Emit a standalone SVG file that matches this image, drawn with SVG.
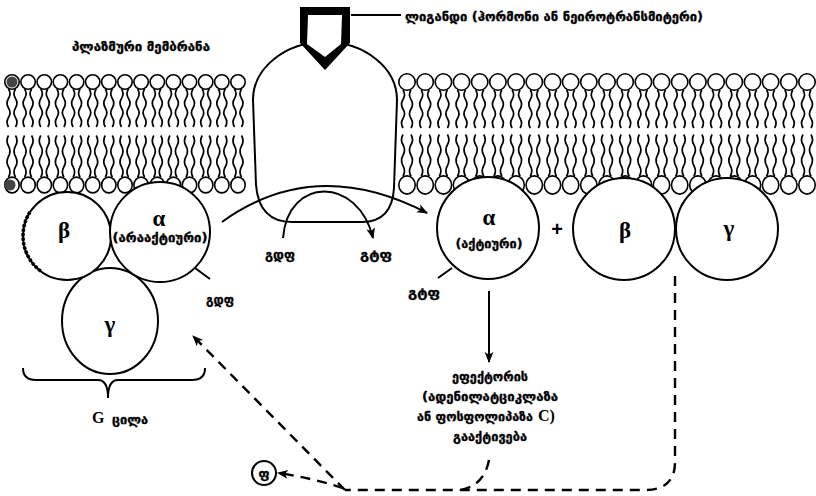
<svg xmlns="http://www.w3.org/2000/svg" xmlns:xlink="http://www.w3.org/1999/xlink" width="816" height="496" viewBox="0 0 816 496">
  <style>
    .ln { fill: none; stroke: #000; stroke-width: 2; }
    .shape { fill: #fff; stroke: #000; stroke-width: 2; }
    .head { fill: #fff; stroke: #000; stroke-width: 1.6; }
    .tail { fill: none; stroke: #000; stroke-width: 1.7; }
    .dash { fill: none; stroke: #000; stroke-width: 2.4; stroke-dasharray: 10 7; }
    .ka { font-family: "DejaVu Sans", sans-serif; font-weight: bold; font-size: 13px; fill: #000; stroke: #000; stroke-width: 0.35; }
    .gr { font-family: "Liberation Serif", "DejaVu Serif", serif; font-weight: bold; font-size: 23px; fill: #000; text-anchor: middle; }
    .lat { font-family: "Liberation Serif", serif; font-weight: bold; font-size: 16px; fill: #000; }
    .mid { text-anchor: middle; }
  </style>
  <defs>
    <!-- phospholipid: head with two fatty-acid tails hanging down -->
    <g id="lipR">
      <path class="tail" d="M-4 8 q3 4.75 0 9.5 t0 9.5 t0 9.5 t0 9.5"/>
      <path class="tail" d="M4 8 q-3 4.75 0 9.5 t0 9.5 t0 9.5 t0 9.5"/>
      <circle class="head" r="8.2"/>
    </g>
    <g id="lipL">
      <path class="tail" d="M-3.5 7 q3 4.75 0 9.5 t0 9.5 t0 9.5 t0 9.5"/>
      <path class="tail" d="M3.5 7 q-3 4.75 0 9.5 t0 9.5 t0 9.5 t0 9.5"/>
      <circle class="head" r="7.2"/>
    </g>
    <marker id="ah" viewBox="0 0 10 10" refX="9" refY="5" markerWidth="11" markerHeight="11" markerUnits="userSpaceOnUse" orient="auto">
      <path d="M0,1 L10,5 L0,9 L2.5,5 z" fill="#000" stroke="none"/>
    </marker>
  </defs>

  <rect width="816" height="496" fill="#fff"/>

  <!-- lipid bilayer, left of the receptor -->
  <g id="membrane-left">
    <use xlink:href="#lipL" transform="translate(12,82)"/>
    <use xlink:href="#lipL" transform="translate(28.1,82)"/>
    <use xlink:href="#lipL" transform="translate(44.3,82)"/>
    <use xlink:href="#lipL" transform="translate(60.4,82)"/>
    <use xlink:href="#lipL" transform="translate(76.6,82)"/>
    <use xlink:href="#lipL" transform="translate(92.7,82)"/>
    <use xlink:href="#lipL" transform="translate(108.8,82)"/>
    <use xlink:href="#lipL" transform="translate(125,82)"/>
    <use xlink:href="#lipL" transform="translate(141.1,82)"/>
    <use xlink:href="#lipL" transform="translate(157.3,82)"/>
    <use xlink:href="#lipL" transform="translate(173.4,82)"/>
    <use xlink:href="#lipL" transform="translate(189.5,82)"/>
    <use xlink:href="#lipL" transform="translate(205.7,82)"/>
    <use xlink:href="#lipL" transform="translate(221.8,82)"/>
    <use xlink:href="#lipL" transform="translate(238,82)"/>
    <use xlink:href="#lipL" transform="translate(12,185) scale(1,-1.1)"/>
    <use xlink:href="#lipL" transform="translate(28.1,185) scale(1,-1.1)"/>
    <use xlink:href="#lipL" transform="translate(44.3,185) scale(1,-1.1)"/>
    <use xlink:href="#lipL" transform="translate(60.4,185) scale(1,-1.1)"/>
    <use xlink:href="#lipL" transform="translate(76.6,185) scale(1,-1.1)"/>
    <use xlink:href="#lipL" transform="translate(92.7,185) scale(1,-1.1)"/>
    <use xlink:href="#lipL" transform="translate(108.8,185) scale(1,-1.1)"/>
    <use xlink:href="#lipL" transform="translate(125,185) scale(1,-1.1)"/>
    <use xlink:href="#lipL" transform="translate(141.1,185) scale(1,-1.1)"/>
    <use xlink:href="#lipL" transform="translate(157.3,185) scale(1,-1.1)"/>
    <use xlink:href="#lipL" transform="translate(173.4,185) scale(1,-1.1)"/>
    <use xlink:href="#lipL" transform="translate(189.5,185) scale(1,-1.1)"/>
    <use xlink:href="#lipL" transform="translate(205.7,185) scale(1,-1.1)"/>
    <use xlink:href="#lipL" transform="translate(221.8,185) scale(1,-1.1)"/>
    <use xlink:href="#lipL" transform="translate(238,185) scale(1,-1.1)"/>
    <!-- darker edge heads at the cut -->
    <circle cx="12" cy="82" r="5.5" fill="#444"/>
    <circle cx="10" cy="185" r="5.5" fill="#444"/>
  </g>

  <!-- lipid bilayer, right of the receptor -->
  <g id="membrane-right">
    <use xlink:href="#lipR" transform="translate(407,82)"/>
    <use xlink:href="#lipR" transform="translate(425.2,82)"/>
    <use xlink:href="#lipR" transform="translate(443.4,82)"/>
    <use xlink:href="#lipR" transform="translate(461.5,82)"/>
    <use xlink:href="#lipR" transform="translate(479.7,82)"/>
    <use xlink:href="#lipR" transform="translate(497.9,82)"/>
    <use xlink:href="#lipR" transform="translate(516.1,82)"/>
    <use xlink:href="#lipR" transform="translate(534.3,82)"/>
    <use xlink:href="#lipR" transform="translate(552.5,82)"/>
    <use xlink:href="#lipR" transform="translate(570.6,82)"/>
    <use xlink:href="#lipR" transform="translate(588.8,82)"/>
    <use xlink:href="#lipR" transform="translate(607,82)"/>
    <use xlink:href="#lipR" transform="translate(625.2,82)"/>
    <use xlink:href="#lipR" transform="translate(643.4,82)"/>
    <use xlink:href="#lipR" transform="translate(661.5,82)"/>
    <use xlink:href="#lipR" transform="translate(679.7,82)"/>
    <use xlink:href="#lipR" transform="translate(697.9,82)"/>
    <use xlink:href="#lipR" transform="translate(716.1,82)"/>
    <use xlink:href="#lipR" transform="translate(734.3,82)"/>
    <use xlink:href="#lipR" transform="translate(752.5,82)"/>
    <use xlink:href="#lipR" transform="translate(770.6,82)"/>
    <use xlink:href="#lipR" transform="translate(788.8,82)"/>
    <use xlink:href="#lipR" transform="translate(807,82)"/>
    <use xlink:href="#lipR" transform="translate(407,185) scale(1,-1.1)"/>
    <use xlink:href="#lipR" transform="translate(425.2,185) scale(1,-1.1)"/>
    <use xlink:href="#lipR" transform="translate(443.4,185) scale(1,-1.1)"/>
    <use xlink:href="#lipR" transform="translate(461.5,185) scale(1,-1.1)"/>
    <use xlink:href="#lipR" transform="translate(479.7,185) scale(1,-1.1)"/>
    <use xlink:href="#lipR" transform="translate(497.9,185) scale(1,-1.1)"/>
    <use xlink:href="#lipR" transform="translate(516.1,185) scale(1,-1.1)"/>
    <use xlink:href="#lipR" transform="translate(534.3,185) scale(1,-1.1)"/>
    <use xlink:href="#lipR" transform="translate(552.5,185) scale(1,-1.1)"/>
    <use xlink:href="#lipR" transform="translate(570.6,185) scale(1,-1.1)"/>
    <use xlink:href="#lipR" transform="translate(588.8,185) scale(1,-1.1)"/>
    <use xlink:href="#lipR" transform="translate(607,185) scale(1,-1.1)"/>
    <use xlink:href="#lipR" transform="translate(625.2,185) scale(1,-1.1)"/>
    <use xlink:href="#lipR" transform="translate(643.4,185) scale(1,-1.1)"/>
    <use xlink:href="#lipR" transform="translate(661.5,185) scale(1,-1.1)"/>
    <use xlink:href="#lipR" transform="translate(679.7,185) scale(1,-1.1)"/>
    <use xlink:href="#lipR" transform="translate(697.9,185) scale(1,-1.1)"/>
    <use xlink:href="#lipR" transform="translate(716.1,185) scale(1,-1.1)"/>
    <use xlink:href="#lipR" transform="translate(734.3,185) scale(1,-1.1)"/>
    <use xlink:href="#lipR" transform="translate(752.5,185) scale(1,-1.1)"/>
    <use xlink:href="#lipR" transform="translate(770.6,185) scale(1,-1.1)"/>
    <use xlink:href="#lipR" transform="translate(788.8,185) scale(1,-1.1)"/>
    <use xlink:href="#lipR" transform="translate(807,185) scale(1,-1.1)"/>
  </g>

  <text id="membrane-label" class="ka" x="72" y="51" textLength="138" lengthAdjust="spacingAndGlyphs">პლაზმური  მემბრანა</text>

  <!-- transmembrane receptor -->
  <g id="receptor">
    <path class="shape" stroke-width="2.4" d="M253,100 L256,185 Q259,222 292,222 L362,222 Q392,222 394,188 L397,100 A72 58 0 0 0 253,100 Z"/>
  </g>

  <!-- ligand docked on the receptor -->
  <g id="ligand">
    <polygon points="300,7 350,7 350,43 325,70 300,43" fill="#000"/>
    <polygon points="308,15 342,15 341,44 325,57 307,44" fill="#fff"/>
    <line x1="351" y1="15" x2="401" y2="15" stroke="#000" stroke-width="1.8"/>
    <text class="ka" x="405" y="21" textLength="298" lengthAdjust="spacingAndGlyphs">ლიგანდი (ჰორმონი ან ნეიროტრანსმიტერი)</text>
  </g>

  <!-- inactive G protein -->
  <g id="g-gamma-inactive">
    <ellipse class="shape" cx="110" cy="321" rx="48" ry="53"/>
    <text class="gr" x="110" y="332">γ</text>
  </g>
  <g id="g-beta-inactive">
    <circle class="shape" cx="67" cy="236" r="44"/>
    <path d="M30,212 A44 44 0 0 0 42,272" fill="none" stroke="#000" stroke-width="3.5" stroke-dasharray="3 1.5"/>
    <text class="gr" x="64" y="238">β</text>
  </g>
  <g id="g-alpha-inactive">
    <circle class="shape" cx="160" cy="232" r="50"/>
    <text class="gr" x="159" y="226">α</text>
    <text class="ka mid" x="160" y="242" textLength="95" lengthAdjust="spacingAndGlyphs">(არააქტიური)</text>
    <line class="ln" x1="195" y1="268" x2="210" y2="279"/>
    <text class="ka mid" x="220" y="304" textLength="28" lengthAdjust="spacingAndGlyphs">გდფ</text>
  </g>

  <!-- brace and caption for the G protein -->
  <g id="g-protein-label">
    <path class="ln" d="M23,368 Q23,380 36,380 L98,380 Q108,380 108,398 Q108,380 118,380 L192,380 Q205,380 205,368"/>
    <text class="lat" x="92" y="423" font-size="17">G</text>
    <text class="ka" x="112" y="424" font-size="11" textLength="36" lengthAdjust="spacingAndGlyphs">ცილა</text>
  </g>

  <!-- activated subunits -->
  <g id="alpha-active">
    <circle class="shape" cx="488" cy="228" r="51"/>
    <text class="gr" x="489" y="225">α</text>
    <text class="ka mid" x="489" y="248" textLength="67" lengthAdjust="spacingAndGlyphs">(აქტიური)</text>
    <line class="ln" x1="438" y1="278" x2="452" y2="268"/>
    <text class="ka mid" x="424" y="297" textLength="32" lengthAdjust="spacingAndGlyphs">გტფ</text>
  </g>
  <text id="plus" x="557" y="236" font-family="Liberation Sans, sans-serif" font-weight="bold" font-size="20" text-anchor="middle">+</text>
  <g id="beta-free">
    <circle class="shape" cx="624" cy="229" r="51"/>
    <text class="gr" x="625" y="238">β</text>
  </g>
  <g id="gamma-free">
    <circle class="shape" cx="727" cy="229" r="51"/>
    <text class="gr" x="729" y="236">γ</text>
  </g>

  <!-- nucleotide labels under the receptor -->
  <g id="gdp-in">
    <text class="ka mid" x="280" y="259" textLength="30" lengthAdjust="spacingAndGlyphs">გდფ</text>
  </g>
  <g id="gtp-in">
    <text class="ka mid" x="376" y="259" textLength="32" lengthAdjust="spacingAndGlyphs">გტფ</text>
  </g>

  <!-- effector activation -->
  <g id="effector">
    <text class="ka mid" x="490" y="381" textLength="76" lengthAdjust="spacingAndGlyphs">ეფექტორის</text>
    <text class="ka mid" x="490" y="401" textLength="136" lengthAdjust="spacingAndGlyphs">(ადენილატციკლაზა</text>
    <text class="ka" x="417" y="421" textLength="116" lengthAdjust="spacingAndGlyphs">ან  ფოსფოლიპაზა</text>
    <text class="lat" x="538" y="421" font-size="15">C)</text>
    <text class="ka mid" x="490" y="441" textLength="74" lengthAdjust="spacingAndGlyphs">გააქტივება</text>
  </g>

  <!-- inorganic phosphate -->
  <g id="phosphate">
    <circle cx="264" cy="473" r="12" fill="#fff" stroke="#000" stroke-width="2"/>
    <text class="ka mid" x="264" y="478" font-size="12">ფ</text>
  </g>

  <g id="connectors">
    <!-- alpha leaves the complex -->
    <path class="ln" d="M222,222 Q315,155 427,213" marker-end="url(#ah)"/>
    <!-- GDP out, GTP in -->
    <path class="ln" d="M283,238 C288,176 358,176 373,238" marker-end="url(#ah)"/>
    <!-- alpha activates the effector -->
    <line class="ln" x1="489" y1="291" x2="489" y2="362" marker-end="url(#ah)"/>
    <!-- return path to the inactive state -->
    <path class="dash" d="M675,276 L675,462 Q675,490 645,490 L345,490"/>
    <path class="dash" d="M489,460 Q484,486 460,490"/>
    <path class="dash" d="M345,490 L193,336" marker-end="url(#ah)"/>
    <path class="dash" d="M343,488 Q312,478 278,473" marker-end="url(#ah)"/>
  </g>
</svg>
